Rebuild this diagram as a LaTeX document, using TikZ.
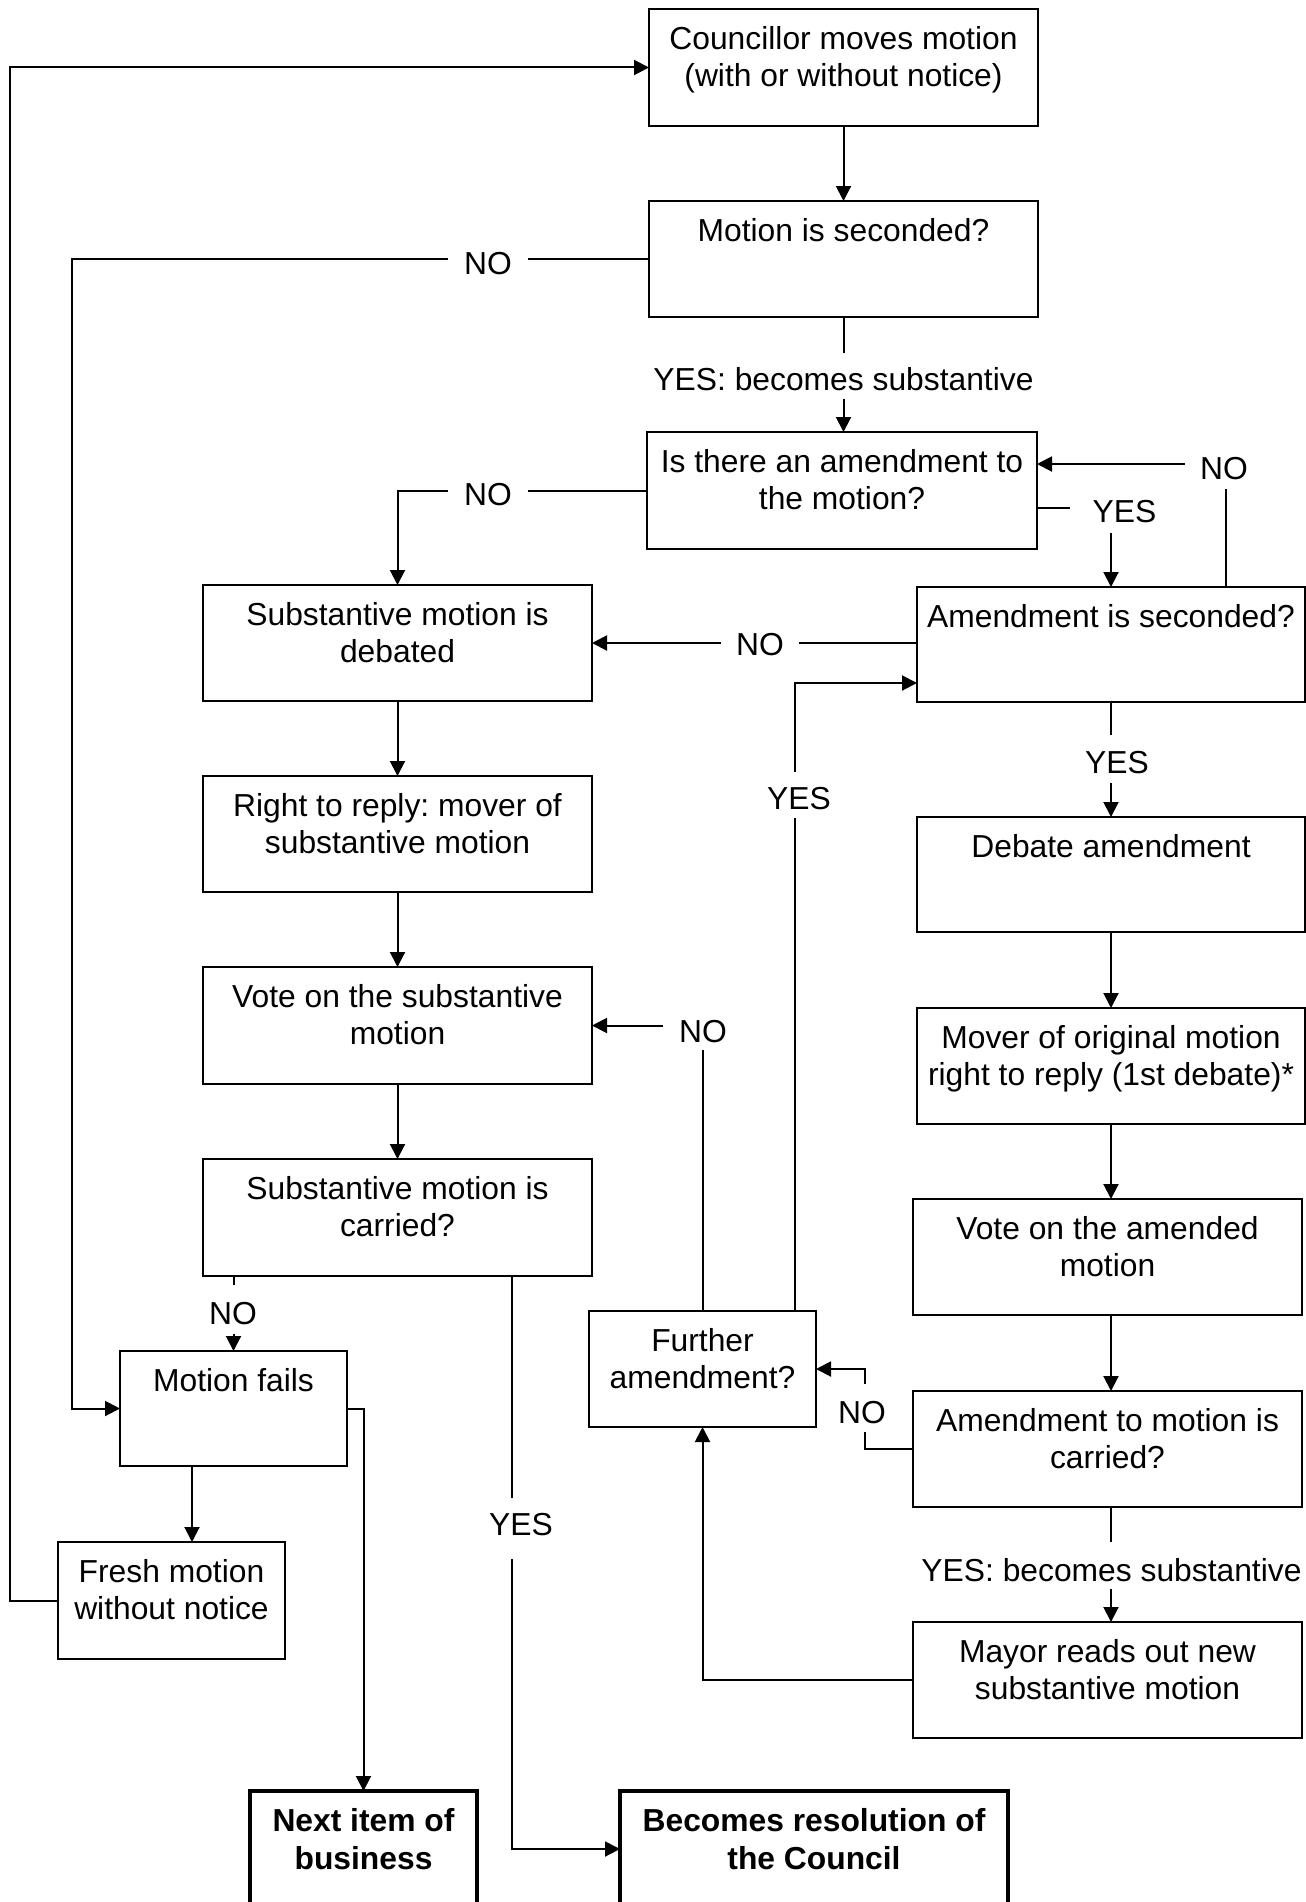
\documentclass[tikz,border=0pt]{standalone}
\usepackage{fontspec}
\setmainfont{Liberation Sans}
\usetikzlibrary{arrows.meta,fit,calc}
\frenchspacing
\begin{document}
\frenchspacing
\begin{tikzpicture}[x=0.75pt,y=-0.75pt,
  box/.style={draw, rectangle, line width=1.9pt, inner sep=0pt, outer sep=0pt},
  boldbox/.style={box, line width=3.4pt},
  txt/.style={inner sep=0pt, align=center, anchor=north, font=\fontsize{23.85pt}{27.2pt}\selectfont},
  btxt/.style={txt, font=\fontsize{23.85pt}{29pt}\selectfont\bfseries},
  conn/.style={line width=1.5pt, -{Triangle[length=11.25pt,width=11.25pt]}},
  lbl/.style={fill=white, inner ysep=0pt, anchor=base, font=\fontsize{23.85pt}{27.2pt}\selectfont}]
\useasboundingbox (0,0) rectangle (1306,1902);
\clip (0,0) rectangle (1306,1902);

% boxes
\node[box, fit={(649,9) (1038,126)}] (b1) {};
\node[box, fit={(649,201) (1038,317)}] (b2) {};
\node[box, fit={(647,432) (1037,549)}] (b3) {};
\node[box, fit={(203,585) (592,701)}] (b4) {};
\node[box, fit={(917,587) (1305,702)}] (b5) {};
\node[box, fit={(203,776) (592,892)}] (b6) {};
\node[box, fit={(917,817) (1305,932)}] (b7) {};
\node[box, fit={(203,967) (592,1084)}] (b8) {};
\node[box, fit={(917,1008) (1305,1124)}] (b9) {};
\node[box, fit={(203,1159) (592,1276)}] (b10) {};
\node[box, fit={(913,1199) (1302,1315)}] (b11) {};
\node[box, fit={(589,1311) (816,1427)}] (b12) {};
\node[box, fit={(120,1351) (347,1466)}] (b13) {};
\node[box, fit={(913,1391) (1302,1507)}] (b14) {};
\node[box, fit={(58,1542) (285,1659)}] (b15) {};
\node[box, fit={(913,1622) (1302,1738)}] (b16) {};
\node[boldbox, fit={(250,1791) (477,1907)}] (b17) {};
\node[boldbox, fit={(620,1791) (1008,1907)}] (b18) {};

% texts
\node[txt] (t1) at ($(b1.north)+(0,17.5)$) {Councillor moves motion\\(with or without notice)};
\node[txt] (t2) at ($(b2.north)+(0,17.5)$) {Motion is seconded?};
\node[txt] (t3) at ($(b3.north)+(0,17.5)$) {Is there an amendment to\\the motion?};
\node[txt] (t4) at ($(b4.north)+(0,17.5)$) {Substantive motion is\\debated};
\node[txt] (t5) at ($(b5.north)+(0,17.5)$) {Amendment is seconded?};
\node[txt] (t6) at ($(b6.north)+(0,17.5)$) {Right to reply: mover of\\substantive motion};
\node[txt] (t7) at ($(b7.north)+(0,17.5)$) {Debate amendment};
\node[txt] (t8) at ($(b8.north)+(0,17.5)$) {Vote on the substantive\\motion};
\node[txt] (t9) at ($(b9.north)+(0,17.5)$) {Mover of original motion\\right to reply (1st debate)*};
\node[txt] (t10) at ($(b10.north)+(0,17.5)$) {Substantive motion is\\carried?};
\node[txt] (t11) at ($(b11.north)+(0,17.5)$) {Vote on the amended\\motion};
\node[txt] (t12) at ($(b12.north)+(0,17.5)$) {Further\\amendment?};
\node[txt] (t13) at ($(b13.north)+(0,17.5)$) {Motion fails};
\node[txt] (t14) at ($(b14.north)+(0,17.5)$) {Amendment to motion is\\carried?};
\node[txt] (t15) at ($(b15.north)+(0,17.5)$) {Fresh motion\\without notice};
\node[txt] (t16) at ($(b16.north)+(0,17.5)$) {Mayor reads out new\\substantive motion};
\node[btxt] (t17) at ($(b17.north)+(0,16.8)$) {Next item of\\business};
\node[btxt] (t18) at ($(b18.north)+(0,16.8)$) {Becomes resolution of\\the Council};

% bend coordinates
\coordinate (kA) at (10,67.5);
\coordinate (kB) at (72,1408.5);
\coordinate (kC) at ($(b13.south west)+(72,0)$);
\coordinate (kD) at (865,1369);

% connectors
\draw[conn] (b15.west) -| (kA) -- (b1.west);
\draw[conn] (b1.south) -- (b2.north);
\draw[conn] (b2.south) -- (b2.south |- b3.north);
\draw[conn] (b2.west) -| (kB) -- (b13.west);
\draw[conn] (b3.west) -| (b4.north);
\draw[conn] ($(b5.north west)+(309,0)$) |- ($(b3.north east)+(0,32)$);
\draw[conn] ($(b3.east)+(0,17.5)$) -| (b5.north);
\draw[conn] (b5.west |- b4.east) -- (b4.east);
\draw[conn] ($(b12.north east)+(-21,0)$) |- ($(b5.south west)+(0,-19)$);
\draw[conn] (b12.north) |- (b8.east);
\draw[conn] (b4.south) -- (b6.north);
\draw[conn] (b6.south) -- (b8.north);
\draw[conn] (b8.south) -- (b10.north);
\draw[conn] (b10.south -| b13.north) -- (b13.north);
\draw[conn] ($(b10.south east)+(-80.5,0)$) |- (b18.west);
\draw[conn] (b13.east) -| (b17.north);
\draw[conn] (kC) -- (kC |- b15.north);
\draw[conn] (b5.south) -- (b7.north);
\draw[conn] (b7.south) -- (b9.north);
\draw[conn] (b9.south) -- (b9.south |- b11.north);
\draw[conn] (b11.south -| b9.south) -- (b9.south |- b14.north);
\draw[conn] (b14.south -| b9.south) -- (b9.south |- b16.north);
\draw[conn] (b14.west) -| (kD) -- (b12.east);
\draw[conn] (b16.west) -| (b12.south);

% labels
\node[lbl, inner xsep=12pt, text height=18pt, text depth=1.5pt] (La) at (488,274) {NO};
\node[lbl, inner xsep=12pt, text height=18pt, text depth=1.5pt] (Lb) at (488,505) {NO};
\node[lbl, inner xsep=11.25pt, text height=18pt, text depth=7.5pt] (Lc) at (1224,479) {NO};
\node[lbl, inner xsep=17.25pt, text height=18pt, text depth=8.25pt] (Ld) at (1124.5,522) {YES};
\node[lbl, inner xsep=11.25pt, text height=18pt, text depth=1.5pt] (Le) at (760,655) {NO};
\node[lbl, inner xsep=3.75pt, text height=28.1pt, text depth=6.75pt] (Lf) at (799,809) {YES};
\node[lbl, inner xsep=12pt, text height=18pt, text depth=6pt] (Lg) at (703,1042) {NO};
\node[lbl, inner xsep=3.75pt, text height=29.25pt, text depth=7.2pt] (Lh) at (233,1324) {NO};
\node[lbl, inner xsep=3.75pt, text height=28.1pt, text depth=18pt] (Li) at (521,1535) {YES};
\node[lbl, inner xsep=3.75pt, text height=28.5pt, text depth=7.5pt] (Lj) at (1117,773) {YES};
\node[lbl, inner xsep=3.75pt, text height=29.25pt, text depth=6.75pt] (Lk) at (862,1423) {NO};
\node[lbl, inner xsep=2pt, text height=28.1pt, text depth=6.75pt] (Ll) at (843.5,390) {YES: becomes substantive};
\node[lbl, inner xsep=2pt, text height=29.25pt, text depth=6pt] (Lm) at (1111.5,1581) {YES: becomes substantive};
\end{tikzpicture}
\end{document}
